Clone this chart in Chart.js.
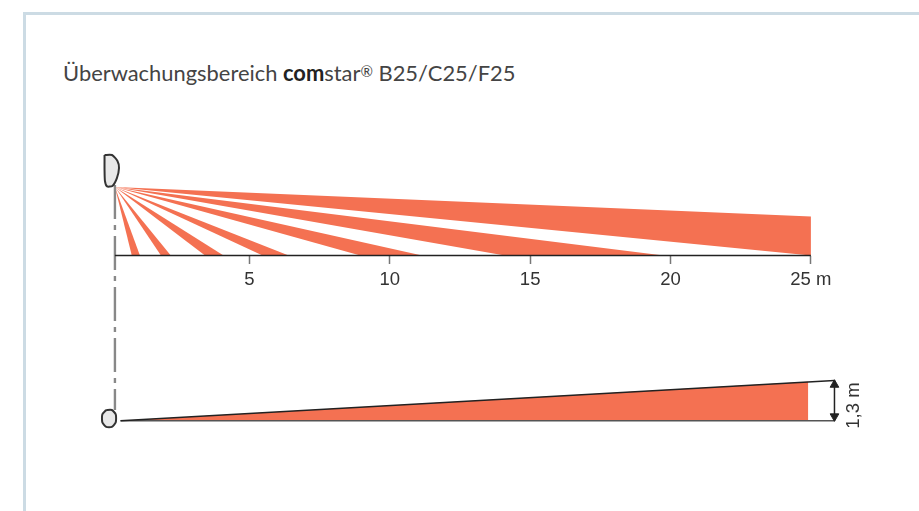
<!DOCTYPE html>
<html>
<head>
<meta charset="utf-8">
<title>Überwachungsbereich comstar B25/C25/F25</title>
<script src="https://cdn.jsdelivr.net/npm/chart.js@4"></script>
<style>
	html, body { margin: 0; background: #fff; overflow: hidden; }
	#wrap { position: relative; width: 919px; height: 511px; overflow: hidden; }
	#frame {
		position: absolute; left: 23px; top: 12px; width: 920px; height: 520px;
		border-left: 3px solid #ccdbe4; border-top: 3px solid #ccdbe4;
	}
	#heading {
		position: absolute; left: 63px; top: 59px; white-space: nowrap;
		font: 21.9px Lato, sans-serif; color: #444;
	}
	#heading b { color: #222; }
	#heading span { font-size: 15px; position: relative; top: -4px; }
	canvas { position: absolute; left: 0; top: 0; }
</style>
</head>
<body>
<div id="wrap">
	<div id="frame"></div>
	<div id="heading">Überwachungsbereich <b>com</b>star<span>®</span> B25/C25/F25</div>
	<canvas id="chart" width="919" height="511"></canvas>
</div>
<script>
// Distances in metres
const tickValues = [5, 10, 15, 20, 25];
const tickUnit = " m";

// Top view: sensor position and where each beam meets the axis
const apexX = 0.21;
const apexY = 2.44;
const beamNear = [0.81, 1.85, 3.42, 5.47, 8.95, 14.1];
const beamFar = [1.1, 2.2, 4.08, 6.4, 11.15, 19.75];
const lastBeamX = 25;
const lastBeamTop = 1.39;

// Side view
const sideStart = 0.41;
const sideFillEnd = 24.9;
const sideFillTop = 1.255;
const sideEnd = 25.84;
const sideHeight = 1.3;
const sideLabel = "1,3 m";

// Sensor outlines
const sensorTopX = [-0.16, 0.105, 0.3, 0.355, 0.28, 0.12, -0.07, -0.145, -0.16, -0.16];
const sensorTopY = [3.58, 3.58, 3.37, 3.12, 2.76, 2.48, 2.46, 2.65, 3.05, 3.58];
const sensorSideX = [-0.1, 0.1, 0.24, 0.24, 0.1, -0.1, -0.24, -0.24, -0.1];
const sensorSideY = [0.345, 0.345, 0.2, -0.05, -0.2, -0.2, -0.05, 0.2, 0.345];

const orange = "#f47152";

function zip(xs, ys) {
	return xs.map((x, i) => ({ x, y: ys[i] }));
}

function shape(data, yAxisID, color) {
	return {
		data,
		yAxisID,
		fill: "shape",
		backgroundColor: color,
		borderWidth: 0,
		pointRadius: 0,
		tension: 0,
	};
}

function stroke(data, yAxisID, color, width, dash) {
	return {
		data,
		yAxisID,
		fill: false,
		borderColor: color,
		borderWidth: width,
		borderDash: dash || [],
		pointRadius: 0,
		tension: 0,
		clip: false,
	};
}

function sensor(data, yAxisID) {
	return {
		data,
		yAxisID,
		fill: "shape",
		backgroundColor: "#e8e8e8",
		borderColor: "#333",
		borderWidth: 2,
		pointRadius: 0,
		tension: 0.2,
		clip: false,
	};
}

const beams = beamNear.map((near, i) =>
	shape(
		[
			{ x: apexX, y: apexY },
			{ x: near, y: 0 },
			{ x: beamFar[i], y: 0 },
			{ x: apexX, y: apexY },
		],
		"yTop",
		orange,
	),
);
beams.push(
	shape(
		[
			{ x: apexX, y: apexY },
			{ x: lastBeamX, y: lastBeamTop },
			{ x: lastBeamX, y: 0 },
			{ x: apexX, y: apexY },
		],
		"yTop",
		orange,
	),
);

const datasets = [
	// arrow heads of the height marker
	{
		data: [
			{ x: sideEnd, y: sideHeight - 0.14 },
			{ x: sideEnd, y: 0.14 },
		],
		yAxisID: "ySide",
		showLine: false,
		pointStyle: "triangle",
		pointRadius: 5,
		pointRotation: [0, 180],
		pointBackgroundColor: "#222",
		pointBorderColor: "#222",
		clip: false,
	},
	stroke([{ x: sideEnd, y: 0 }, { x: sideEnd, y: sideHeight }], "ySide", "#222", 1.5),
	stroke([{ x: sideStart, y: 0 }, { x: sideEnd, y: sideHeight }], "ySide", "#222", 1.5),
	stroke([{ x: sideStart, y: 0 }, { x: sideEnd, y: 0 }], "ySide", "#555", 1.5),
	stroke([{ x: apexX, y: 0 }, { x: 25, y: 0 }], "yTop", "#222", 1.5),
	sensor(zip(sensorTopX, sensorTopY), "yTop"),
	sensor(zip(sensorSideX, sensorSideY), "ySide"),
	// dash-dot line between the two views
	stroke([{ x: apexX, y: 2.51 }, { x: apexX, y: -5.5 }], "yTop", "#888", 2.4, [34, 6, 5, 6]),
	shape(
		[
			{ x: sideStart, y: 0 },
			{ x: sideFillEnd, y: sideFillTop },
			{ x: sideFillEnd, y: 0 },
			{ x: sideStart, y: 0 },
		],
		"ySide",
		orange,
	),
	...beams,
];

// Rotated label next to the height marker
const sideLabelPlugin = {
	id: "sideLabel",
	afterDatasetsDraw(chart) {
		const { ctx, scales } = chart;
		ctx.save();
		ctx.translate(scales.x.getPixelForValue(sideEnd) + 19, scales.ySide.getPixelForValue(sideHeight / 2) + 5);
		ctx.rotate(-Math.PI / 2);
		ctx.font = '18.5px "Liberation Sans", sans-serif';
		ctx.fillStyle = "#333";
		ctx.textAlign = "center";
		ctx.textBaseline = "middle";
		ctx.fillText(sideLabel, 0, 0);
		ctx.restore();
	},
};

new Chart(document.getElementById("chart"), {
	type: "line",
	data: { datasets },
	plugins: [sideLabelPlugin],
	options: {
		responsive: false,
		animation: false,
		layout: { padding: { left: 95, right: 66, top: 140, bottom: 71 } },
		plugins: { legend: { display: false }, tooltip: { enabled: false } },
		scales: {
			x: {
				type: "linear",
				min: -0.5,
				max: 26.5,
				position: { yTop: 0 },
				afterBuildTicks: (scale) => {
					scale.ticks = tickValues.map((value) => ({ value }));
				},
				afterFit: (scale) => {
					scale.height = 0;
				},
				border: { display: false },
				grid: {
					drawOnChartArea: false,
					drawTicks: true,
					tickLength: 8,
					tickColor: "#777",
					tickWidth: 1.5,
				},
				ticks: {
					autoSkip: false,
					maxRotation: 0,
					padding: 5,
					color: "#333",
					font: { family: '"Liberation Sans"', size: 18.5 },
					callback: (value) => (value === 25 ? value + tickUnit : String(value)),
				},
			},
			yTop: { type: "linear", display: false, min: -6.573, max: 4.115 },
			ySide: { type: "linear", display: false, min: -0.6226, max: 9.055 },
		},
	},
});
</script>
</body>
</html>
